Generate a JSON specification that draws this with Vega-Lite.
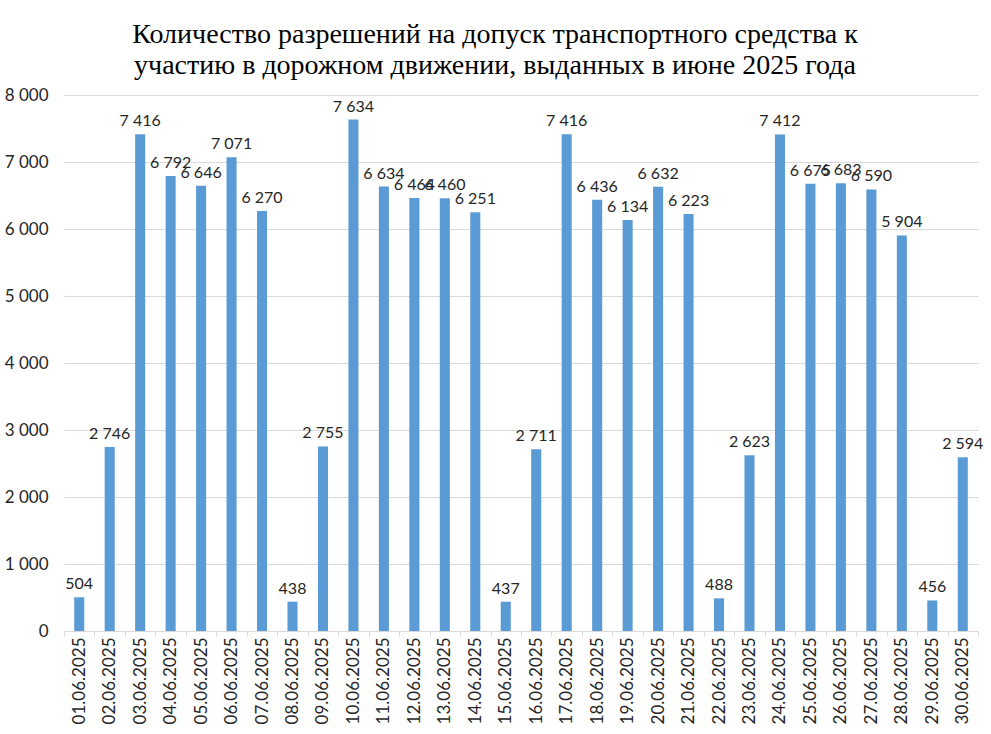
{
  "$schema": "https://vega.github.io/schema/vega-lite/v6.json",
  "width": 914,
  "height": 536,
  "autosize": {"type": "none"},
  "padding": {"left": 64, "top": 95, "right": 13, "bottom": 103},
  "background": "white",
  "title": {
    "text": ["Количество разрешений на допуск транспортного средства к", "участию в дорожном движении, выданных в июне 2025 года"],
    "font": "Liberation Serif",
    "fontSize": 28,
    "fontWeight": "normal",
    "color": "#000000",
    "anchor": "middle",
    "dx": -26,
    "dy": 36,
    "baseline": "bottom",
    "offset": 14,
    "lineHeight": 31
  },
  "config": {
    "locale": {"number": {"decimal": ",", "thousands": " ", "grouping": [3], "currency": ["", ""]}},
    "view": {"stroke": null},
    "font": "Lato"
  },
  "data": {
    "values": [
      {"date": "01.06.2025", "count": 504},
      {"date": "02.06.2025", "count": 2746},
      {"date": "03.06.2025", "count": 7416},
      {"date": "04.06.2025", "count": 6792},
      {"date": "05.06.2025", "count": 6646},
      {"date": "06.06.2025", "count": 7071},
      {"date": "07.06.2025", "count": 6270},
      {"date": "08.06.2025", "count": 438},
      {"date": "09.06.2025", "count": 2755},
      {"date": "10.06.2025", "count": 7634},
      {"date": "11.06.2025", "count": 6634},
      {"date": "12.06.2025", "count": 6464},
      {"date": "13.06.2025", "count": 6460},
      {"date": "14.06.2025", "count": 6251},
      {"date": "15.06.2025", "count": 437},
      {"date": "16.06.2025", "count": 2711},
      {"date": "17.06.2025", "count": 7416},
      {"date": "18.06.2025", "count": 6436},
      {"date": "19.06.2025", "count": 6134},
      {"date": "20.06.2025", "count": 6632},
      {"date": "21.06.2025", "count": 6223},
      {"date": "22.06.2025", "count": 488},
      {"date": "23.06.2025", "count": 2623},
      {"date": "24.06.2025", "count": 7412},
      {"date": "25.06.2025", "count": 6675},
      {"date": "26.06.2025", "count": 6683},
      {"date": "27.06.2025", "count": 6590},
      {"date": "28.06.2025", "count": 5904},
      {"date": "29.06.2025", "count": 456},
      {"date": "30.06.2025", "count": 2594}
    ]
  },
  "encoding": {
    "x": {
      "field": "date",
      "type": "ordinal",
      "sort": null,
      "scale": {"paddingInner": 0, "paddingOuter": 0},
      "axis": {
        "title": null,
        "labelAngle": -90,
        "labelAlign": "right",
        "labelBaseline": "middle",
        "labelFontSize": 17,
        "labelColor": "#262626",
        "labelPadding": 1,
        "domainColor": "#D9D9D9",
        "tickColor": "#D9D9D9",
        "tickSize": 5,
        "tickBand": "extent",
        "grid": false
      }
    }
  },
  "layer": [
    {
      "mark": {"type": "bar", "color": "#5B9BD5", "width": {"band": 0.33}},
      "encoding": {
        "y": {
          "field": "count",
          "type": "quantitative",
          "scale": {"domain": [0, 8000]},
          "axis": {
            "title": null,
            "format": ",d",
            "tickCount": 8,
            "grid": true,
            "gridColor": "#D9D9D9",
            "domain": false,
            "ticks": false,
            "labelPadding": 16,
            "labelFontSize": 17,
            "labelColor": "#262626"
          }
        }
      }
    },
    {
      "mark": {"type": "text", "baseline": "bottom", "dy": -5, "fontSize": 16, "color": "#262626"},
      "encoding": {
        "y": {"field": "count", "type": "quantitative"},
        "text": {"field": "count", "type": "quantitative", "format": ",d"}
      }
    }
  ]
}
